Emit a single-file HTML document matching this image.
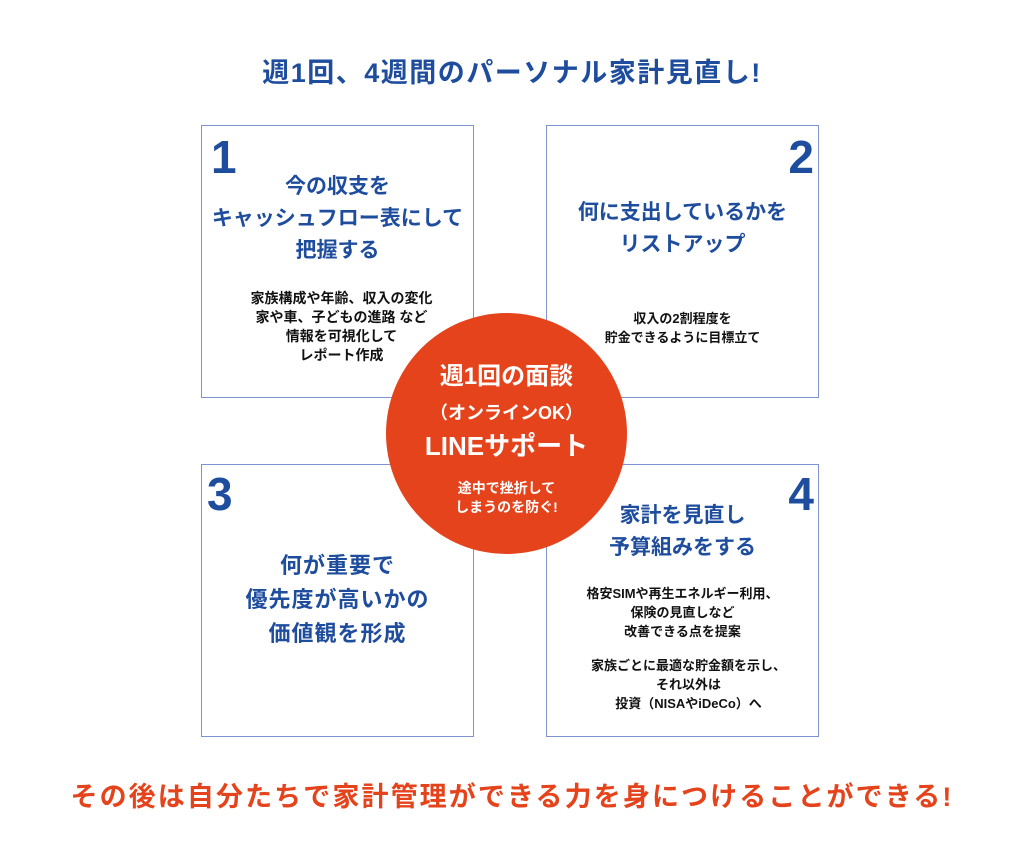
<!DOCTYPE html>
<html><head><meta charset="utf-8"><style>
body{margin:0;width:1024px;height:867px;background:#fff;position:relative;overflow:hidden;font-family:"Liberation Sans","Noto Sans CJK JP",sans-serif;}
.t{position:absolute;left:0;width:100%;text-align:center;white-space:nowrap;}
.box{position:absolute;border:1px solid #7f93d2;box-sizing:border-box;width:273px;height:273px;}
.num{position:absolute;font-size:46px;font-weight:bold;color:#1f4d9e;line-height:1;}
.h{position:absolute;left:0;width:100%;text-align:center;color:#1f4d9e;font-weight:bold;font-size:21px;line-height:32px;white-space:nowrap;}
.s{position:absolute;left:0;width:100%;text-align:center;color:#111;font-weight:bold;font-size:13px;line-height:19px;white-space:nowrap;}
.circle{position:absolute;left:386px;top:313px;width:241px;height:241px;border-radius:50%;background:#e5431c;color:#fff;}
.c{position:absolute;left:0;width:100%;text-align:center;font-weight:bold;white-space:nowrap;}
</style></head><body>
<div class="t" style="top:55px;font-size:27px;letter-spacing:1.5px;font-weight:bold;color:#1f4d9e;line-height:36px;">週1回、4週間のパーソナル家計見直し!</div>

<div class="box" style="left:201px;top:125px;">
<div class="num" style="left:9px;top:8px;">1</div>
<div class="h" style="top:45px;">今の収支を<br>キャッシュフロー表にして<br>把握する</div>
<div class="s" style="top:163px;left:4px;font-size:14px;">家族構成や年齢、収入の変化<br>家や車、子どもの進路 など<br>情報を可視化して<br>レポート作成</div>
</div>

<div class="box" style="left:546px;top:125px;">
<div class="num" style="right:4px;top:8px;">2</div>
<div class="h" style="top:71px;">何に支出しているかを<br>リストアップ</div>
<div class="s" style="top:183px;">収入の2割程度を<br>貯金できるように目標立て</div>
</div>

<div class="box" style="left:201px;top:464px;">
<div class="num" style="left:5px;top:6px;">3</div>
<div class="h" style="top:84px;line-height:34px;font-size:22px;letter-spacing:1px;">何が重要で<br>優先度が高いかの<br>価値観を形成</div>
</div>

<div class="box" style="left:546px;top:464px;">
<div class="num" style="right:4px;top:6px;">4</div>
<div class="h" style="top:35px;">家計を見直し<br>予算組みをする</div>
<div class="s" style="top:119px;">格安SIMや再生エネルギー利用、<br>保険の見直しなど<br>改善できる点を提案</div>
<div class="s" style="top:191px;left:6px;">家族ごとに最適な貯金額を示し、<br>それ以外は<br>投資（NISAやiDeCo）へ</div>
</div>

<div class="circle">
<div class="c" style="top:48px;font-size:24px;line-height:32px;">週1回の面談</div>
<div class="c" style="top:87px;font-size:18px;line-height:26px;">（オンラインOK）</div>
<div class="c" style="top:116px;font-size:26px;line-height:34px;">LINEサポート</div>
<div class="c" style="top:166px;font-size:14px;line-height:19px;">途中で挫折して<br>しまうのを防ぐ!</div>
</div>

<div class="t" style="top:779px;font-size:27px;letter-spacing:2.1px;font-weight:bold;color:#e5431c;line-height:36px;">その後は自分たちで家計管理ができる力を身につけることができる!</div>
</body></html>
